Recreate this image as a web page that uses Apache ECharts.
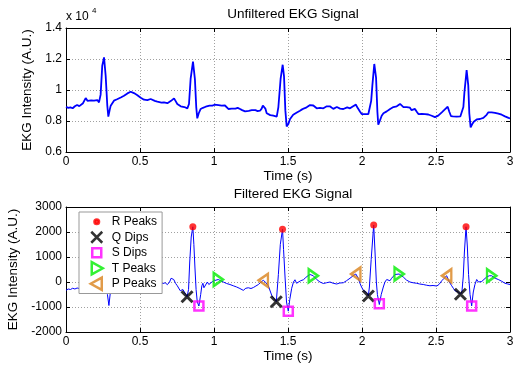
<!DOCTYPE html>
<html>
<head>
<meta charset="utf-8">
<script src="https://cdn.jsdelivr.net/npm/echarts@6/dist/echarts.min.js"></script>
<style>
  html, body { margin: 0; padding: 0; background: #fff; }
  #chart { width: 518px; height: 366px; }
</style>
</head>
<body>
<div id="chart"></div>
<script>
// raw EKG trace, [time (s), intensity]
const rawSignal = [
  [0, 8920], [0.015, 8850], [0.03, 8880], [0.045, 8820], [0.06, 8950], [0.075, 9030], [0.09, 8960], [0.1, 9000],
  [0.115, 9150], [0.133, 9480], [0.145, 9300], [0.155, 9250], [0.17, 9330], [0.18, 9250], [0.189, 9310], [0.2, 9270],
  [0.212, 9350], [0.223, 9200], [0.234, 9700], [0.245, 11570], [0.257, 12100], [0.268, 10920], [0.279, 9000], [0.286, 8280],
  [0.295, 8700], [0.302, 8990], [0.312, 9100], [0.324, 9310], [0.335, 9250], [0.345, 9400], [0.358, 9450], [0.37, 9520],
  [0.38, 9580], [0.392, 9630], [0.405, 9700], [0.415, 9780], [0.427, 9820], [0.437, 9890], [0.448, 9860], [0.459, 9800],
  [0.47, 9720], [0.48, 9680], [0.493, 9630], [0.505, 9500], [0.515, 9450], [0.527, 9375], [0.54, 9400], [0.55, 9350],
  [0.56, 9450], [0.572, 9420], [0.585, 9350], [0.6, 9300], [0.617, 9245], [0.63, 9280], [0.645, 9180], [0.662, 9200],
  [0.675, 9260], [0.685, 9150], [0.696, 9140], [0.71, 9300], [0.72, 9420], [0.73, 9460], [0.74, 9300], [0.752, 9100],
  [0.765, 9000], [0.775, 8950], [0.786, 8920], [0.8, 8900], [0.81, 8850], [0.82, 8815], [0.831, 9100], [0.842, 10710],
  [0.858, 11830], [0.871, 10700], [0.88, 8900], [0.887, 8170], [0.897, 8500], [0.91, 8775], [0.925, 8850], [0.944, 8920],
  [0.955, 8880], [0.97, 8990], [0.989, 8990], [1.005, 9050], [1.018, 9100], [1.03, 9020], [1.04, 9080], [1.052, 8990],
  [1.063, 9060], [1.074, 9000], [1.085, 8900], [1.097, 8775], [1.11, 8850], [1.12, 8800], [1.131, 8880], [1.145, 8800],
  [1.16, 8850], [1.176, 8775], [1.19, 8700], [1.2, 8720], [1.21, 8620], [1.221, 8560], [1.235, 8650], [1.245, 8600],
  [1.255, 8700], [1.266, 8620], [1.28, 8700], [1.295, 8640], [1.311, 8665], [1.322, 8800], [1.33, 9000], [1.338, 9100],
  [1.347, 8800], [1.356, 8500], [1.367, 8390], [1.38, 8380], [1.39, 8340], [1.401, 8340], [1.412, 8300], [1.424, 8280],
  [1.435, 8900], [1.45, 10710], [1.464, 11630], [1.473, 10900], [1.482, 8700], [1.491, 7650], [1.502, 7800], [1.514, 8130],
  [1.525, 8250], [1.535, 8400], [1.547, 8450], [1.56, 8550], [1.57, 8600], [1.581, 8665], [1.595, 8750], [1.61, 8820],
  [1.626, 8880], [1.637, 8950], [1.649, 9030], [1.66, 8960], [1.671, 9000], [1.682, 8900], [1.694, 8820], [1.705, 8900],
  [1.716, 8850], [1.727, 8920], [1.739, 8820], [1.75, 8900], [1.762, 8950], [1.773, 8880], [1.785, 8940], [1.796, 8820],
  [1.806, 8780], [1.818, 8850], [1.83, 8900], [1.84, 8840], [1.852, 8800], [1.863, 8860], [1.874, 8775], [1.886, 8800],
  [1.9, 8880], [1.91, 8850], [1.919, 8820], [1.93, 8900], [1.94, 8950], [1.95, 9000], [1.959, 9055], [1.967, 8900],
  [1.975, 8775], [1.987, 8600], [1.998, 8450], [2.01, 8420], [2.02, 8450], [2.032, 8405], [2.043, 8450], [2.054, 8560],
  [2.062, 9300], [2.07, 10280], [2.083, 11680], [2.095, 10800], [2.104, 8600], [2.11, 7760], [2.12, 8000], [2.133, 8340],
  [2.145, 8500], [2.155, 8550], [2.167, 8620], [2.18, 8700], [2.19, 8780], [2.201, 8820], [2.212, 8900], [2.223, 8990],
  [2.235, 8950], [2.245, 9060], [2.257, 9100], [2.268, 8980], [2.28, 8900], [2.291, 8840], [2.302, 8900], [2.313, 8800],
  [2.324, 8860], [2.335, 8700], [2.347, 8750], [2.358, 8780], [2.37, 8600], [2.381, 8450], [2.393, 8500], [2.405, 8460],
  [2.415, 8520], [2.426, 8450], [2.437, 8380], [2.448, 8420], [2.46, 8300], [2.471, 8340], [2.482, 8380], [2.493, 8250],
  [2.505, 8280], [2.515, 8350], [2.527, 8450], [2.539, 8560], [2.55, 8650], [2.56, 8750], [2.57, 8850], [2.579, 8920],
  [2.59, 8600], [2.601, 8320], [2.615, 8300], [2.628, 8260], [2.64, 8280], [2.652, 8250], [2.665, 8300], [2.678, 8300],
  [2.685, 8900], [2.692, 9850], [2.707, 11290], [2.718, 10300], [2.725, 8500], [2.734, 7590], [2.745, 7800], [2.755, 7950],
  [2.764, 8020], [2.775, 8100], [2.786, 8060], [2.797, 8130], [2.81, 8100], [2.82, 8200], [2.831, 8230], [2.842, 8400],
  [2.854, 8560], [2.865, 8520], [2.876, 8560], [2.888, 8500], [2.899, 8530], [2.91, 8450], [2.921, 8480], [2.933, 8420],
  [2.944, 8405], [2.955, 8350], [2.966, 8300], [2.977, 8230], [2.99, 8200], [3.0, 8170]
];

// filtered trace
const filteredSignal = [
  [0, -334], [0.015, -280], [0.03, -300], [0.045, -250], [0.06, -280], [0.075, -240], [0.09, -260], [0.1, -250],
  [0.15, -200], [0.2, -250], [0.25, -280], [0.27, -300], [0.28, -500], [0.29, -940], [0.3, -400], [0.31, -150],
  [0.32, -100], [0.35, 0], [0.4, 50], [0.45, 80], [0.5, 50], [0.55, 20], [0.6, 0], [0.64, -40],
  [0.655, -60], [0.67, -30], [0.685, -105], [0.7, 0], [0.71, 150], [0.718, 229], [0.728, 100], [0.741, -60],
  [0.752, -150], [0.764, -200], [0.772, -350], [0.78, -400], [0.79, -300], [0.8, -380], [0.81, -500], [0.818, -590],
  [0.828, -300], [0.836, 800], [0.846, 1800], [0.857, 2210], [0.864, 1500], [0.871, 600], [0.879, -300], [0.887, -800],
  [0.898, -960], [0.91, -500], [0.918, -150], [0.925, -50], [0.932, -230], [0.94, -150], [0.955, 0], [0.965, -100],
  [0.975, -60], [0.99, 20], [1.005, 60], [1.018, 100], [1.029, 100], [1.045, 50], [1.063, 0], [1.085, -60],
  [1.108, -100], [1.13, -150], [1.153, -200], [1.175, -260], [1.198, -334], [1.215, -250], [1.232, -230], [1.25, -260],
  [1.266, -220], [1.283, -160], [1.3, -100], [1.318, 0], [1.333, 68], [1.35, -20], [1.367, -150], [1.39, -535],
  [1.405, -650], [1.421, -790], [1.435, 300], [1.448, 1500], [1.463, 2110], [1.47, 1300], [1.48, 200], [1.49, -800],
  [1.502, -1165], [1.512, -700], [1.525, -250], [1.537, 0], [1.547, 90], [1.558, -50], [1.57, -20], [1.585, 50],
  [1.604, 90], [1.62, 180], [1.635, 250], [1.649, 300], [1.671, 250], [1.694, 100], [1.716, 0], [1.739, -60],
  [1.76, -30], [1.784, 0], [1.805, -50], [1.829, -80], [1.85, -40], [1.874, -30], [1.895, 50], [1.919, 150],
  [1.94, 250], [1.958, 320], [1.975, 150], [1.986, -50], [1.997, -200], [2.009, -334], [2.02, -300], [2.032, -420],
  [2.043, -560], [2.05, -200], [2.062, 900], [2.079, 2280], [2.088, 1200], [2.097, 0], [2.104, -500], [2.117, -900],
  [2.13, -500], [2.144, -200], [2.155, 0], [2.167, 100], [2.178, 20], [2.189, 50], [2.2, 150], [2.223, 300],
  [2.251, 320], [2.279, 200], [2.3, 80], [2.324, 0], [2.345, -30], [2.369, -50], [2.39, -80], [2.414, -100],
  [2.437, -130], [2.459, -150], [2.48, -140], [2.505, -160], [2.52, -100], [2.539, 50], [2.555, 150], [2.572, 250],
  [2.59, 0], [2.606, -150], [2.617, -250], [2.628, -350], [2.64, -300], [2.652, -400], [2.665, -490], [2.675, -400],
  [2.684, 200], [2.692, 1200], [2.703, 2210], [2.712, 1400], [2.72, 300], [2.73, -500], [2.741, -955], [2.752, -400],
  [2.763, -100], [2.775, 100], [2.787, 0], [2.798, -50], [2.809, 20], [2.82, 100], [2.842, 200], [2.86, 250],
  [2.876, 250], [2.9, 150], [2.921, 100], [2.944, 30], [2.966, -50], [2.985, -80], [3.0, -100]
];

const rPeaks = [[0.857, 2210], [1.463, 2110], [2.079, 2280], [2.703, 2210]];
const qDips = [[0.818, -590], [1.421, -790], [2.043, -560], [2.665, -490]];
const sDips = [[0.898, -960], [1.502, -1165], [2.117, -870], [2.741, -955]];
const tPeaks = [[1.029, 100], [1.671, 250], [2.251, 320], [2.876, 250]];
const pPeaks = [[1.333, 68], [1.958, 320], [2.572, 250]];

const FONT = 'Liberation Sans, Arial, Helvetica, sans-serif';
const ORANGE = '#d9821c';

// marker shapes (legend versions padded to a 20x14 box)
const xPath = 'path://M0,0L10,10M10,0L0,10';
const rightTri = 'path://M0,0L11,6.5L0,13Z';
const leftTri = 'path://M11,0L0,6.5L11,13Z';
const legR = 'path://M0,0M20,14M12.3,7A2.3,2.3,0,1,1,7.7,7A2.3,2.3,0,1,1,12.3,7Z';
const legX = 'path://M0,0M20,14M4.5,1.5L15.5,12.5M15.5,1.5L4.5,12.5';
const legS = 'path://M0,0M20,14M5.5,2.5L14.5,2.5L14.5,11.5L5.5,11.5Z';
const legT = 'path://M0,0M20,14M5,0.8L16,7L5,13.2Z';
const legP = 'path://M0,0M20,14M15,0.8L4,7L15,13.2Z';

const chart = echarts.init(document.getElementById('chart'));

function xAxisFor(gridIndex, main) {
  return {
    type: 'value', gridIndex: gridIndex, min: 0, max: 3, interval: 0.5,
    position: main ? 'bottom' : 'top',
    name: main ? 'Time (s)' : '', nameLocation: 'middle', nameGap: 16,
    nameTextStyle: { color: '#000', fontSize: 13.5, fontFamily: FONT },
    axisLine: { show: true, onZero: false, lineStyle: { color: '#000', width: 1 } },
    axisTick: { show: true, inside: true, length: 4, lineStyle: { color: '#000' } },
    axisLabel: { show: main, color: '#000', fontSize: 12, fontFamily: FONT, margin: 4 },
    splitLine: { show: main, lineStyle: { color: '#a0a0a0', type: [1, 2] } }
  };
}

function yAxisFor(gridIndex, main, min, max, interval, fmt) {
  return {
    type: 'value', gridIndex: gridIndex, min: min, max: max, interval: interval,
    position: main ? 'left' : 'right',
    name: main ? 'EKG Intensity (A.U.)' : '', nameLocation: 'middle', nameGap: 26, nameRotate: 90,
    nameTextStyle: { color: '#000', fontSize: 13.5, fontFamily: FONT },
    axisLine: { show: true, onZero: false, lineStyle: { color: '#000', width: 1 } },
    axisTick: { show: true, inside: true, length: 4, lineStyle: { color: '#000' } },
    axisLabel: { show: main, color: '#000', fontSize: 12, fontFamily: FONT, margin: 4, formatter: fmt },
    splitLine: { show: main, lineStyle: { color: '#a0a0a0', type: [1, 2] } }
  };
}

function markers(name, data, symbol, size, style) {
  return {
    name: name, type: 'scatter', xAxisIndex: 1, yAxisIndex: 1,
    data: data, symbol: symbol, symbolSize: size, symbolKeepAspect: true,
    itemStyle: style, z: 5, silent: true
  };
}

const option = {
  animation: false,
  backgroundColor: '#fff',
  title: [
    { text: 'Unfiltered EKG Signal', left: 288, top: 2, textAlign: 'center',
      textStyle: { fontSize: 13.5, fontWeight: 'normal', color: '#000', fontFamily: FONT } },
    { text: 'Filtered EKG Signal', left: 288, top: 182, textAlign: 'center',
      textStyle: { fontSize: 13.5, fontWeight: 'normal', color: '#000', fontFamily: FONT } }
  ],
  grid: [
    { left: 66, width: 444, top: 28, height: 124, outerBoundsMode: 'none', containLabel: false },
    { left: 66, width: 444, top: 207, height: 125, outerBoundsMode: 'none', containLabel: false }
  ],
  legend: {
    orient: 'vertical', left: 79, top: 212, z: 10,
    padding: [1.5, 5, 1.5, 6.5], itemWidth: 20, itemHeight: 14, itemGap: -1,
    backgroundColor: '#fff', borderColor: '#999', borderWidth: 1, borderRadius: 0,
    textStyle: { fontSize: 12, lineHeight: 14, color: '#000', fontFamily: FONT },
    data: [
      { name: 'R Peaks', icon: legR, itemStyle: { color: '#ff0000', borderColor: '#ff0000', borderWidth: 2.5 } },
      { name: 'Q Dips', icon: legX, itemStyle: { color: 'rgba(0,0,0,0)', borderColor: '#000', borderWidth: 2.5 } },
      { name: 'S Dips', icon: legS, itemStyle: { color: 'rgba(0,0,0,0)', borderColor: '#ff00ff', borderWidth: 2.5 } },
      { name: 'T Peaks', icon: legT, itemStyle: { color: 'rgba(0,0,0,0)', borderColor: '#00ee00', borderWidth: 2.5 } },
      { name: 'P Peaks', icon: legP, itemStyle: { color: 'rgba(0,0,0,0)', borderColor: ORANGE, borderWidth: 2.5 } }
    ]
  },
  xAxis: [xAxisFor(0, true), xAxisFor(1, true), xAxisFor(0, false), xAxisFor(1, false)],
  yAxis: [
    yAxisFor(0, true, 6000, 14000, 2000, function (v) { return String(v / 10000); }),
    yAxisFor(1, true, -2000, 3000, 1000, function (v) { return String(v); }),
    yAxisFor(0, false, 6000, 14000, 2000),
    yAxisFor(1, false, -2000, 3000, 1000)
  ],
  graphic: [
    { type: 'text', left: 66, top: 11, style: { text: 'x 10', fontSize: 12, fill: '#000', fontFamily: FONT } },
    { type: 'text', left: 92, top: 7, style: { text: '4', fontSize: 8, fill: '#000', fontFamily: FONT } }
  ],
  series: [
    { name: 'Unfiltered', type: 'line', xAxisIndex: 0, yAxisIndex: 0, data: rawSignal,
      showSymbol: false, lineStyle: { color: '#0000ff', width: 1.8 }, silent: true },
    { name: 'Filtered', type: 'line', xAxisIndex: 1, yAxisIndex: 1, data: filteredSignal,
      showSymbol: false, lineStyle: { color: '#0000ff', width: 1 }, silent: true },
    markers('R Peaks', rPeaks, 'circle', 7, { color: '#ff0000' }),
    markers('Q Dips', qDips, xPath, 11, { color: 'rgba(0,0,0,0)', borderColor: '#000', borderWidth: 3 }),
    markers('S Dips', sDips, 'rect', 9, { color: 'rgba(0,0,0,0)', borderColor: '#ff00ff', borderWidth: 2.5 }),
    markers('T Peaks', tPeaks, rightTri, [11, 13], { color: 'rgba(0,0,0,0)', borderColor: '#00ee00', borderWidth: 2.5 }),
    markers('P Peaks', pPeaks, leftTri, [11, 13], { color: 'rgba(0,0,0,0)', borderColor: ORANGE, borderWidth: 2.5 })
  ]
};

chart.setOption(option);
</script>
</body>
</html>
